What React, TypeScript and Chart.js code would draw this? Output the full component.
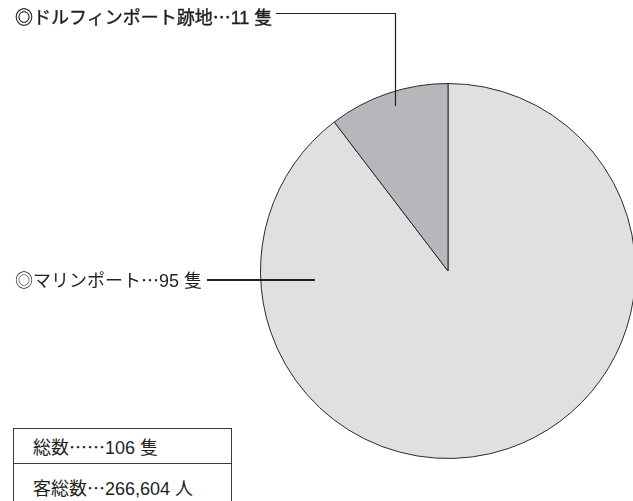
import React, { useEffect, useRef } from "react";
import { Chart, registerables } from "chart.js";

Chart.register(...registerables);

const categories = ["マリンポート", "ドルフィンポート跡地"];
const shipCounts = [95, 11];
const sliceColors = ["#e0e0e2", "#b6b7ba"];
const labelTexts = ["◎マリンポート…95 隻", "◎ドルフィンポート跡地…11 隻"];
const summaryRows = ["総数……106 隻", "客総数…266,604 人"];

const CJK = '"Noto Sans CJK JP", sans-serif';
const LATIN = '"Liberation Sans", Arial, sans-serif';
const INK = "#231f20";

const leaderPlugin = {
  id: "leaders",
  afterDraw(chart: any) {
    const meta = chart.getDatasetMeta(0);
    const arc = meta.data[1];
    if (!arc) return;
    const cx = arc.x;
    const cy = arc.y;
    const R = arc.outerRadius;
    const ctx = chart.ctx;
    ctx.save();
    ctx.strokeStyle = INK;
    ctx.lineWidth = 1.2;
    ctx.beginPath();
    const lx = cx - 0.28 * R;
    ctx.moveTo(276, 13.5);
    ctx.lineTo(lx, 13.5);
    ctx.lineTo(lx, cy - 0.88 * R);
    ctx.stroke();
    ctx.lineWidth = 2;
    ctx.beginPath();
    ctx.moveTo(207, 280);
    ctx.lineTo(cx - 0.71 * R, 280);
    ctx.stroke();
    ctx.restore();
  },
};

function MixedText({ text }: { text: string }) {
  const parts = text.match(/[0-9, ]+|[^0-9, ]+/g) || [];
  return (
    <span style={{ whiteSpace: "pre" }}>
      {parts.map((p, i) => (
        <span key={i} style={{ fontFamily: /[0-9, ]/.test(p[0]) ? LATIN : CJK }}>
          {p}
        </span>
      ))}
    </span>
  );
}

export default function App() {
  const ref = useRef<HTMLCanvasElement | null>(null);

  useEffect(() => {
    document.body.style.margin = "0";
    const canvas = ref.current;
    if (!canvas) return;
    const chart = new Chart(canvas, {
      type: "pie",
      data: {
        labels: categories,
        datasets: [
          {
            data: shipCounts,
            backgroundColor: sliceColors,
            borderColor: "#2a2a2a",
            borderWidth: 1,
            hoverOffset: 0,
            offset: 0,
          },
        ],
      },
      options: {
        responsive: false,
        animation: false,
        events: [],
        layout: { padding: { left: 260, right: 24, top: 83, bottom: 42 } },
        plugins: {
          legend: { display: false },
          tooltip: { enabled: false },
        },
      },
      plugins: [leaderPlugin],
    });
    return () => chart.destroy();
  }, []);

  const textStyle: React.CSSProperties = {
    position: "absolute",
    fontFamily: CJK,
    fontSize: 18,
    lineHeight: "18px",
    color: INK,
    whiteSpace: "pre",
  };

  const rowStyle: React.CSSProperties = {
    boxSizing: "border-box",
    display: "flex",
    alignItems: "center",
    paddingLeft: 19,
    fontFamily: CJK,
    fontSize: 18,
    color: INK,
    whiteSpace: "pre",
  };

  return (
    <div
      style={{
        position: "relative",
        width: 633,
        height: 501,
        overflow: "hidden",
        background: "#ffffff",
      }}
    >
      <canvas
        ref={ref}
        width={660}
        height={501}
        style={{ position: "absolute", left: 0, top: 0, width: 660, height: 501 }}
      />
      <div style={{ ...textStyle, left: 15, top: 7, WebkitTextStroke: "0.4px " + INK }}>
        <MixedText text={labelTexts[1]} />
      </div>
      <div style={{ ...textStyle, left: 15, top: 270 }}>
        <MixedText text={labelTexts[0]} />
      </div>
      <div
        style={{
          position: "absolute",
          left: 13,
          top: 428,
          width: 219,
          height: 90,
          border: "1px solid #3a3a3a",
          boxSizing: "border-box",
          background: "#fff",
        }}
      >
        <div style={{ ...rowStyle, height: 35, borderBottom: "1px solid #3a3a3a" }}>
          <MixedText text={summaryRows[0]} />
        </div>
        <div style={{ ...rowStyle, height: 46 }}>
          <MixedText text={summaryRows[1]} />
        </div>
      </div>
    </div>
  );
}
